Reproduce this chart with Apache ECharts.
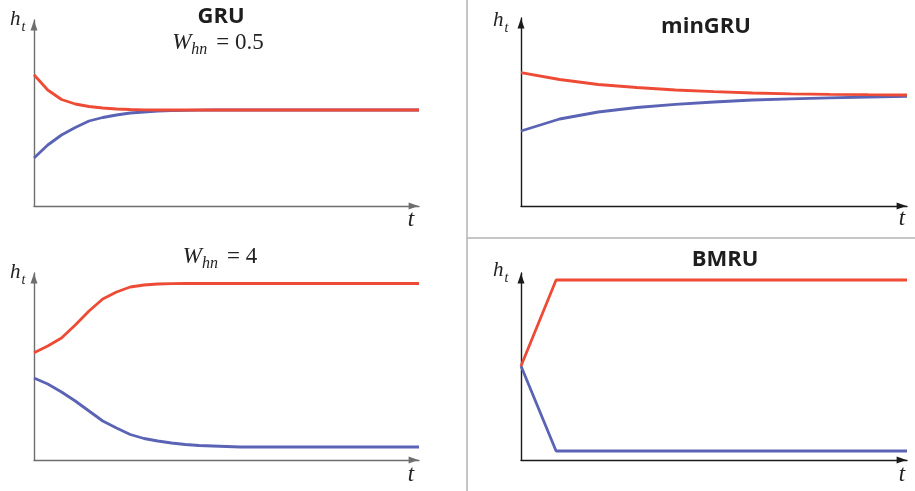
<!DOCTYPE html>
<html>
<head>
<meta charset="utf-8">
<script src="https://cdn.jsdelivr.net/npm/echarts@6/dist/echarts.min.js"></script>
<style>
html,body{margin:0;padding:0;background:#fff;}
#c{width:915px;height:491px;}
</style>
</head>
<body>
<div id="c"></div>
<script>
// ---- data ----
const tGRU = [0,1,2,3,4,5,6,7,8,9,10,11,12,13,14,15,16,17,18,19,20,21,22,23,24,25,26,27,28];
const gruLowRed  = [131.3,116,106.5,102,99.5,98,97,96.5,96.2,96,96,96,96,96,96,96,96,96,96,96,96,96,96,96,96,96,96,96,96];
const gruLowBlue = [48,61,71,78.5,85,88.5,91,93,94,94.8,95.3,95.6,95.8,96,96,96,96,96,96,96,96,96,96,96,96,96,96,96,96];
const gruHighRed  = [107.3,114,122,135,149,161,168,173,175,176,176.3,176.5,176.5,176.5,176.5,176.5,176.5,176.5,176.5,176.5,176.5,176.5,176.5,176.5,176.5,176.5,176.5,176.5,176.5];
const gruHighBlue = [82,76,68,59,49,39,32,25.5,21.5,19,17,15.5,14.5,14,13.5,13,13,13,13,13,13,13,13,13,13,13,13,13,13];
const tMin = [0,1,2,3,4,5,6,7,8,9,10];
const minRed  = [133.3,126.5,121.5,118.5,116,114.3,113,112.2,111.7,111.3,111];
const minBlue = [75,87,94,98.5,101.7,104,106,107.2,108.2,109,109.7];
const tBMRU = [0,1,2,3,4,5,6,7,8,9,10,11];
const bmruRed  = [94,180,180,180,180,180,180,180,180,180,180,180];
const bmruBlue = [94,9,9,9,9,9,9,9,9,9,9,9];

const RED = '#ee4b36', BLUE = '#5b63b5';
const chart = echarts.init(document.getElementById('c'));

function axis(type, cats, max, color) {
  const a = {
    type: type, gridIndex: 0,
    axisLabel: {show:false}, axisTick: {show:false}, splitLine: {show:false},
    axisLine: {show:true, symbol:['none','path://M0,14 L5,0 L10,14 Z'], symbolSize:[7,11], symbolOffset:[0,-5.5],
      lineStyle:{color:color, width:1.4}}
  };
  if (type === 'category') { a.data = cats; a.boundaryGap = false; }
  else { a.min = 0; a.max = max; }
  return a;
}

const panels = [
  {grid:{left:34, top:20, width:385, height:186}, t:tGRU, ymax:186, red:gruLowRed, blue:gruLowBlue, ac:'#6e6e6e'},
  {grid:{left:34, top:273, width:385, height:187}, t:tGRU, ymax:187, red:gruHighRed, blue:gruHighBlue, ac:'#6e6e6e'},
  {grid:{left:521, top:18, width:386, height:188}, t:tMin, ymax:188, red:minRed, blue:minBlue, ac:'#1a1a1a'},
  {grid:{left:521, top:273, width:386, height:187}, t:tBMRU, ymax:187, red:bmruRed, blue:bmruBlue, ac:'#1a1a1a'}
];

const grid=[], xAxis=[], yAxis=[], series=[];
panels.forEach((p,i)=>{
  grid.push(p.grid);
  const xa = axis('category', p.t.map(String), null, p.ac); xa.gridIndex=i; xAxis.push(xa);
  const ya = axis('value', null, p.ymax, p.ac); ya.gridIndex=i; yAxis.push(ya);
  [['blue',p.blue,BLUE],['red',p.red,RED]].forEach(s=>{
    series.push({type:'line', xAxisIndex:i, yAxisIndex:i, data:s[1], showSymbol:false, symbol:'none',
      lineStyle:{color:s[2], width:2.8}, itemStyle:{color:s[2]}, animation:false, silent:true});
  });
});

const serif = 'Liberation Serif';
const sans = 'Open Sans';
function ht(x,y){
  return {type:'text', x:x, y:y, style:{text:'{h|h}{s|t}', rich:{
    h:{fontFamily:serif, fontStyle:'italic', fontSize:21, fill:'#222', lineHeight:24, verticalAlign:'bottom'},
    s:{fontFamily:serif, fontStyle:'italic', fontSize:14, fill:'#222', lineHeight:24, verticalAlign:'bottom', padding:[0,0,-4,1]}
  }}};
}
function tl(x,y){
  return {type:'text', x:x, y:y, style:{text:'t', fontFamily:serif, fontStyle:'italic', fontSize:23, fill:'#222', align:'center', verticalAlign:'middle'}};
}
function whn(x,y,val){
  return {type:'text', x:x, y:y, style:{text:'{w|W}{s|hn}{n|= '+val+'}', align:'center', verticalAlign:'middle', rich:{
    w:{fontFamily:serif, fontStyle:'italic', fontSize:23, fill:'#222', lineHeight:26, verticalAlign:'bottom'},
    s:{fontFamily:serif, fontStyle:'italic', fontSize:16, fill:'#222', lineHeight:26, verticalAlign:'bottom', padding:[0,9,-4,0]},
    n:{fontFamily:serif, fontSize:23, fill:'#222', lineHeight:26, verticalAlign:'bottom'}
  }}};
}
function title(x,y,txt){
  return {type:'text', x:x, y:y, style:{text:txt, fontFamily:sans, fontWeight:'bold', fontSize:22, fill:'#1e1e1e', align:'center', verticalAlign:'middle'}};
}

chart.setOption({
  animation:false,
  grid:grid, xAxis:xAxis, yAxis:yAxis, series:series,
  graphic:[
    {type:'line', shape:{x1:467,y1:0,x2:467,y2:491}, style:{stroke:'#b3b3b3', lineWidth:1.5}},
    {type:'line', shape:{x1:467,y1:238,x2:915,y2:238}, style:{stroke:'#b3b3b3', lineWidth:1.5}},
    ht(10,6), ht(10,259), ht(493,7), ht(493,257),
    tl(411,220), tl(411,475), tl(902,219), tl(902,475),
    title(221,17,'GRU'), whn(218,41,'0.5'), whn(220,255,'4'),
    title(706,27,'minGRU'), title(725,260,'BMRU')
  ]
});
</script>
</body>
</html>
